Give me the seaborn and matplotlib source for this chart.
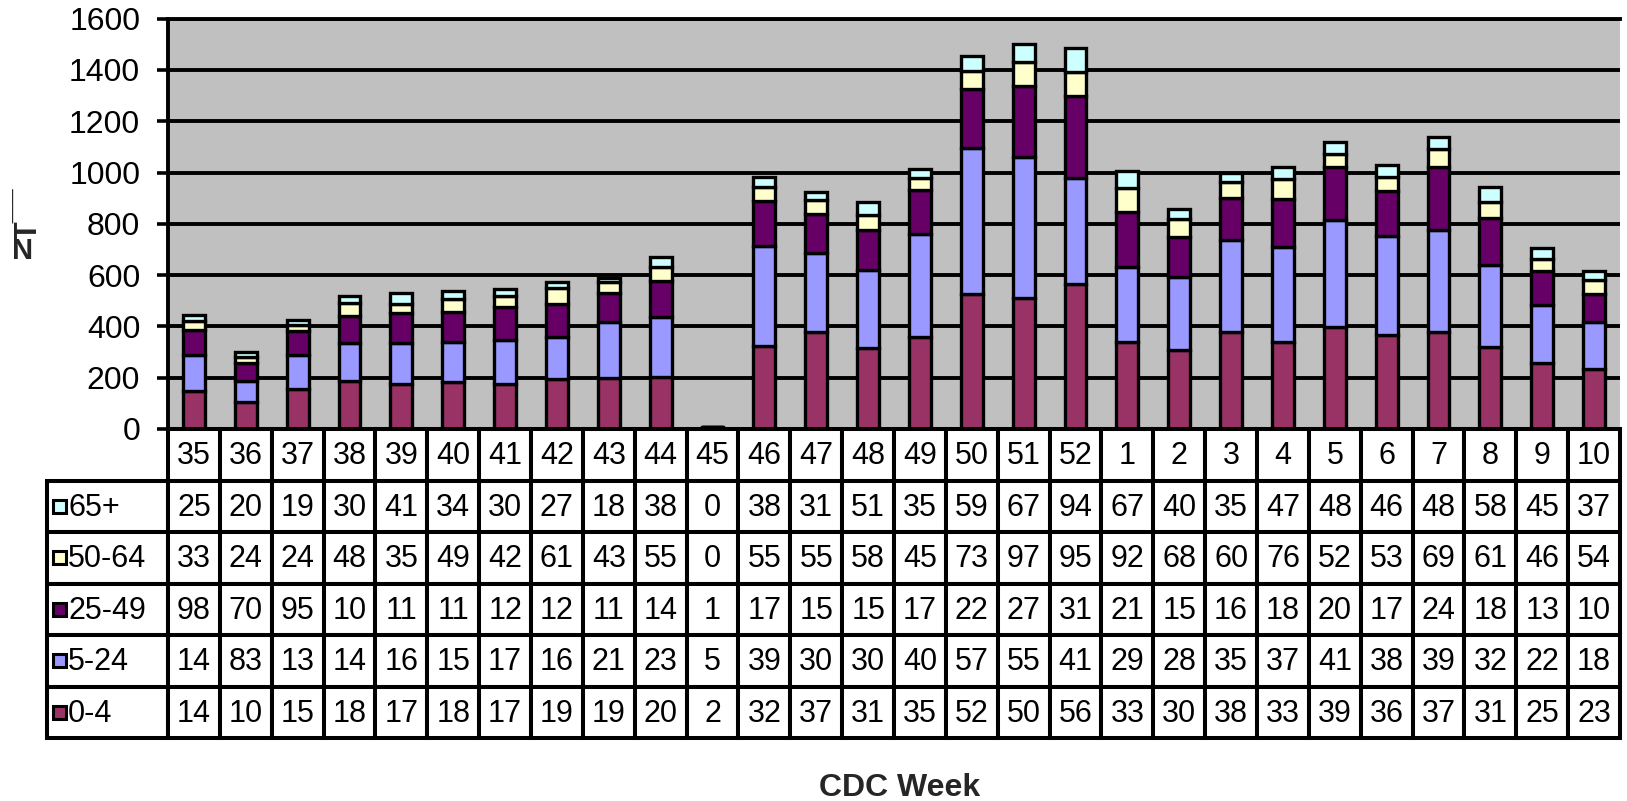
import numpy as np
import pandas as pd
import matplotlib
matplotlib.use('Agg')
import matplotlib.pyplot as plt
import seaborn as sns
from matplotlib.patches import Rectangle

# Dados (semanas CDC e casos por faixa etária)
semanas = [35, 36, 37, 38, 39, 40, 41, 42, 43, 44, 45, 46, 47, 48, 49, 50, 51, 52,
           1, 2, 3, 4, 5, 6, 7, 8, 9, 10]
idade_0_4 = [147, 105, 155, 189, 174, 182, 175, 196, 198, 204, 2, 322, 378, 316,
             358, 525, 509, 565, 338, 309, 380, 338, 399, 368, 377, 318, 258, 235]
idade_5_24 = [143, 83, 133, 145, 163, 156, 172, 163, 218, 232, 5, 390, 307, 303,
              403, 572, 551, 414, 293, 283, 358, 373, 415, 383, 398, 322, 226, 183]
idade_25_49 = [98, 70, 95, 108, 116, 118, 128, 128, 113, 140, 1, 176, 152, 156,
               172, 227, 276, 318, 215, 157, 164, 187, 207, 178, 248, 183, 132, 108]
idade_50_64 = [33, 24, 24, 48, 35, 49, 42, 61, 43, 55, 0, 55, 55, 58, 45, 73, 97,
               95, 92, 68, 60, 76, 52, 53, 69, 61, 46, 54]
idade_65 = [25, 20, 19, 30, 41, 34, 30, 27, 18, 38, 0, 38, 31, 51, 35, 59, 67, 94,
            67, 40, 35, 47, 48, 46, 48, 58, 45, 37]

faixas = ['0-4', '5-24', '25-49', '50-64', '65+']
cores = ['#993366', '#9999FF', '#660066', '#FFFFCC', '#CCFFFF']

df = pd.DataFrame({
    'semana': [str(s) for s in semanas],
    '0-4': idade_0_4,
    '5-24': idade_5_24,
    '25-49': idade_25_49,
    '50-64': idade_50_64,
    '65+': idade_65,
})

# Estilo
sns.set_theme(style='white')
plt.rcParams['font.family'] = ['Liberation Sans', 'DejaVu Sans']

W, H = 1627, 801
fig = plt.figure(figsize=(W / 100, H / 100), dpi=100)
ax_l, ax_r, ax_t, ax_b = 168, 1620, 18.7, 429
ax = fig.add_axes([ax_l / W, 1 - ax_b / H, (ax_r - ax_l) / W, (ax_b - ax_t) / H])
ax.set_facecolor('#C0C0C0')

# Barras empilhadas
base = np.zeros(len(df))
for faixa, cor in zip(faixas, cores):
    sns.barplot(data=df, x='semana', y=faixa, order=df['semana'], color=cor,
                saturation=1, bottom=base, width=0.42, edgecolor='black',
                linewidth=2.4, errorbar=None, ax=ax, zorder=3)
    base = base + df[faixa].to_numpy()

ax.set_xlim(-0.5, len(df) - 0.5)
ax.set_ylim(0, 1600)
ax.set_yticks(range(0, 1601, 200))
ax.set_xticks([])
ax.set_xlabel('')
ax.set_ylabel('')
ax.yaxis.grid(True, color='black', linewidth=2.8)
ax.set_axisbelow(True)
ax.tick_params(axis='y', direction='out', length=8, width=2.6, pad=12,
               labelsize=23, left=True, colors='black')
for lado in ['left', 'bottom', 'top']:
    ax.spines[lado].set_color('black')
    ax.spines[lado].set_linewidth(2.8)
ax.spines['right'].set_visible(False)

# Tabela de dados desenhada célula a célula (Excel corta os números de 3 dígitos)
n = len(df)
alt_tab = (738 - ax_b) / (ax_b - ax_t)
alt_lin = alt_tab / 6
x_rot = -(ax_l - 47) / (ax_r - ax_l)
linhas = list(reversed(faixas))
cor_faixa = dict(zip(faixas, cores))


def celula(x, y, w, h, texto, ha='center', dx=0.0):
    ax.add_patch(Rectangle((x, y), w, h, transform=ax.transAxes, clip_on=False,
                           facecolor='white', edgecolor='black', linewidth=2.9,
                           zorder=5))
    tx = x + w / 2 if ha == 'center' else x + dx
    ax.text(tx, y + h / 2 - 0.004, texto, transform=ax.transAxes, ha=ha,
            va='center', fontsize=22, color='black', clip_on=False, zorder=6)


for j, s in enumerate(df['semana']):
    celula(j / n, -alt_lin, 1 / n, alt_lin, s)

lado_x = 13 / (ax_r - ax_l)
lado_y = 13 / (ax_b - ax_t)
for i, faixa in enumerate(linhas, start=1):
    y = -(i + 1) * alt_lin
    celula(x_rot, y, -x_rot, alt_lin, faixa, ha='left',
           dx=(68 - 47) / (ax_r - ax_l))
    ax.add_patch(Rectangle((-(ax_l - 53) / (ax_r - ax_l), y + alt_lin / 2 - lado_y / 2),
                           lado_x, lado_y, transform=ax.transAxes,
                           facecolor=cor_faixa[faixa], edgecolor='black',
                           linewidth=2.2, clip_on=False, zorder=7))
    for j, v in enumerate(df[faixa]):
        celula(j / n, y, 1 / n, alt_lin, str(v)[:2])

# Rótulos
fig.text(900 / W, 1 - 788 / H, 'CDC Week', ha='center', va='center',
         fontsize=23, fontweight='bold')
fig.text(29 / W, 1 - 214 / H, 'T\u00af\u00af', ha='center', va='center',
         rotation=90, fontsize=22, fontweight='bold')
fig.text(23 / W, 1 - 251 / H, 'N', ha='center', va='center', fontsize=21,
         fontweight='bold')

fig.savefig('out.png', dpi=100)
